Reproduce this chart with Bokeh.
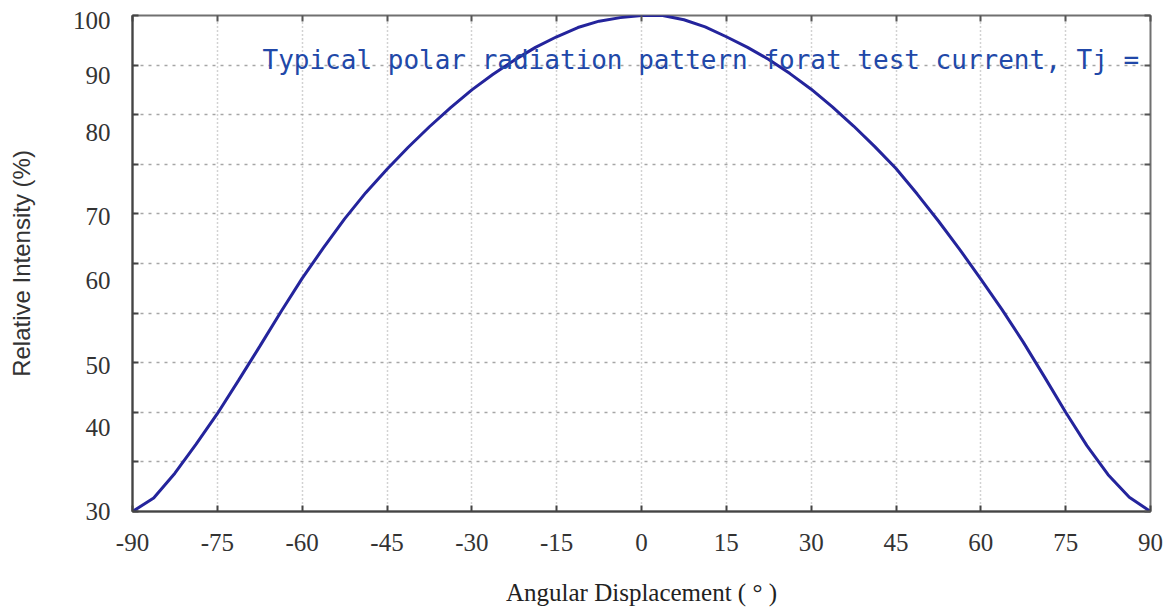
from bokeh.plotting import figure
from bokeh.models import Range1d, FixedTicker, LinearAxis, Label, CustomJSTickFormatter
from bokeh.embed import file_html
from bokeh.resources import INLINE

# ---------------- data ----------------
angle_deg = [-90, -86.25, -82.5, -78.75, -75, -71.25, -67.5, -63.75, -60, -56.25, -52.5, -48.75,
             -45, -41.25, -37.5, -33.75, -30, -26.25, -22.5, -18.75, -15, -11.25, -7.5, -3.75,
             0, 3.75, 7.5, 11.25, 15, 18.75, 22.5, 26.25, 30, 33.75, 37.5, 41.25,
             45, 48.75, 52.5, 56.25, 60, 63.75, 67.5, 71.25, 75, 78.75, 82.5, 86.25, 90]
rel_intensity = [30.0, 31.9, 35.4, 39.5, 43.8, 48.5, 53.3, 58.2, 62.9, 67.2, 71.3, 75.0,
                 78.3, 81.4, 84.3, 87.0, 89.5, 91.7, 93.7, 95.5, 97.0, 98.3, 99.2, 99.7,
                 100.0, 100.0, 99.4, 98.4, 97.0, 95.5, 93.8, 91.8, 89.6, 87.1, 84.4, 81.5,
                 78.4, 74.8, 71.0, 67.0, 62.8, 58.5, 53.9, 49.0, 44.0, 39.3, 35.2, 32.0, 30.0]

x_ticks = [-90, -75, -60, -45, -30, -15, 0, 15, 30, 45, 60, 75, 90]
x_tick_labels = ["-90", "-75", "-60", "-45", "-30", "-15", "0", "15", "30", "45", "60", "75", "90"]
y_tick_labels = ["30", "40", "50", "60", "70", "80", "90", "100"]

title_text = "Typical polar radiation pattern forat test current, Tj ="
x_title = "Angular Displacement ( ° )"
y_title = "Relative Intensity (%)"

# ---------------- layout (positions, not data) ----------------
X_MIN, X_MAX = -90, 90
Y_MIN, Y_MAX = 30, 100
y_grid = [Y_MIN + 7 * k for k in range(11)]                   # 10 equal grid intervals
y_label_pos = [30, 41.9, 50.6, 62.6, 71.6, 83.5, 91.5, 99.3]  # where the labels sit in the picture

F_LEFT, F_RIGHT, F_TOP, F_BOTTOM = 132, 1150, 15, 511   # frame in page pixels
W, H = 1163, 614


def px_x(px):
    return X_MIN + (px - F_LEFT) * (X_MAX - X_MIN) / (F_RIGHT - F_LEFT)


def px_y(py):
    return Y_MIN + (F_BOTTOM - py) * (Y_MAX - Y_MIN) / (F_BOTTOM - F_TOP)


p = figure(width=W, height=H,
           x_range=Range1d(X_MIN, X_MAX), y_range=Range1d(Y_MIN, Y_MAX),
           output_backend="svg", toolbar_location=None,
           min_border_left=F_LEFT, min_border_right=W - F_RIGHT,
           min_border_top=F_TOP, min_border_bottom=H - F_BOTTOM,
           background_fill_color="white", border_fill_color="white",
           outline_line_color="#707070", outline_line_width=2)

p.line(angle_deg, rel_intensity, line_color="#24249c", line_width=3)

# grids
p.xgrid.ticker = FixedTicker(ticks=x_ticks)
p.xgrid.grid_line_color = "#a6a6a6"
p.xgrid.grid_line_dash = "1 3"
p.xgrid.grid_line_width = 1.5
p.ygrid.ticker = FixedTicker(ticks=y_grid)
p.ygrid.grid_line_color = "#a6a6a6"
p.ygrid.grid_line_dash = "3 5"
p.ygrid.grid_line_width = 1.5

TICK_FONT = "Liberation Serif"

xa = p.xaxis[0]
xa.ticker = FixedTicker(ticks=x_ticks)
xa.major_label_overrides = {t: s for t, s in zip(x_ticks, x_tick_labels)}
xa.major_tick_in = 6
xa.major_tick_out = 0
xa.major_tick_line_color = "#444444"
xa.major_tick_line_width = 2
xa.minor_tick_line_color = None
xa.axis_line_color = "#444444"
xa.axis_line_width = 2
xa.major_label_standoff = 22
xa.major_label_text_font = TICK_FONT
xa.major_label_text_font_size = "25px"
xa.major_label_text_color = "#333333"
xa.axis_label = x_title
xa.axis_label_text_font = "Liberation Serif"
xa.axis_label_text_font_size = "25px"
xa.axis_label_text_font_style = "normal"
xa.axis_label_text_color = "#222222"
xa.axis_label_text_line_height = 1.0
xa.axis_label_standoff = 25

ya = p.yaxis[0]
ya.ticker = FixedTicker(ticks=y_label_pos, minor_ticks=y_grid)
ya.major_label_overrides = {pos: lab for pos, lab in zip(y_label_pos, y_tick_labels)}
ya.major_tick_line_color = None
ya.major_tick_in = 0
ya.major_tick_out = 0
ya.minor_tick_in = 6
ya.minor_tick_out = 0
ya.minor_tick_line_color = "#444444"
ya.minor_tick_line_width = 2
ya.axis_line_color = "#444444"
ya.axis_line_width = 2
ya.major_label_standoff = 22
ya.major_label_text_font = TICK_FONT
ya.major_label_text_font_size = "25px"
ya.major_label_text_color = "#333333"
ya.axis_label = y_title
ya.axis_label_text_font = "Liberation Sans"
ya.axis_label_text_font_size = "24px"
ya.axis_label_text_font_style = "normal"
ya.axis_label_text_color = "#333333"
ya.axis_label_standoff = 35

blank = CustomJSTickFormatter(code="return ''")

ra = LinearAxis(ticker=FixedTicker(ticks=y_grid), formatter=blank,
                major_tick_in=6, major_tick_out=0, major_tick_line_color="#555555",
                major_tick_line_width=2, minor_tick_line_color=None, axis_line_color=None,
                major_label_text_font_size="1px", major_label_standoff=0)
p.add_layout(ra, "right")

ta = LinearAxis(ticker=FixedTicker(ticks=x_ticks), formatter=blank,
                major_tick_in=6, major_tick_out=0, major_tick_line_color="#555555",
                major_tick_line_width=2, minor_tick_line_color=None, axis_line_color=None,
                major_label_text_font_size="1px", major_label_standoff=0)
p.add_layout(ta, "above")

# chart caption inside the plot area
p.add_layout(Label(x=px_x(262), y=px_y(59), text=title_text,
                   text_font="DejaVu Sans Mono", text_font_size="26px",
                   text_color="#2148a8", text_align="left", text_baseline="alphabetic"))

open("out.html", "w").write(file_html(p, INLINE))
